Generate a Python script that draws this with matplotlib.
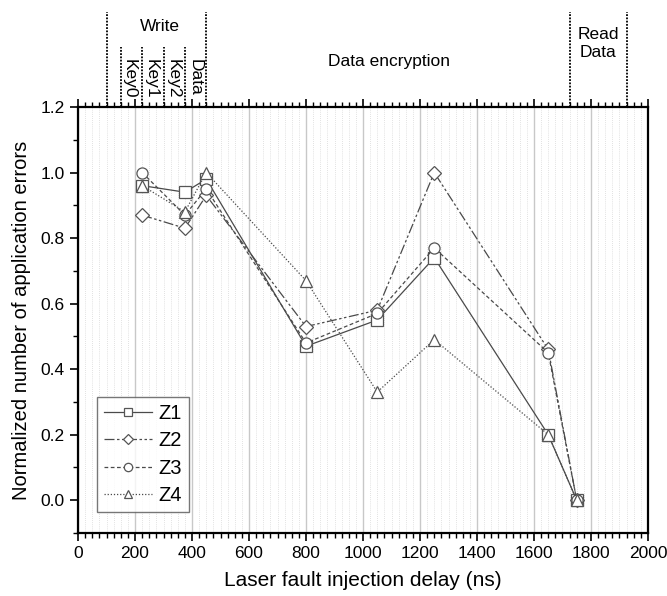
import matplotlib
matplotlib.use("Agg")
import matplotlib.pyplot as plt
from matplotlib.ticker import MultipleLocator, FormatStrFormatter
import matplotlib.transforms as mtransforms

plt.rcParams['font.family'] = ['Liberation Sans', 'DejaVu Sans']

delay = [225, 375, 450, 800, 1050, 1250, 1650, 1750]
z1 = [0.96, 0.94, 0.98, 0.47, 0.55, 0.74, 0.20, 0.0]
z2 = [0.87, 0.83, 0.93, 0.53, 0.58, 1.00, 0.46, 0.0]
z3 = [1.00, 0.87, 0.95, 0.48, 0.57, 0.77, 0.45, 0.0]
z4 = [0.96, 0.88, 1.00, 0.67, 0.33, 0.49, 0.20, 0.0]
series_names = ['Z1', 'Z2', 'Z3', 'Z4']

phase_tall = [100, 450, 1725, 1925]
phase_short = [150, 225, 300, 375]
key_labels = ['Key0', 'Key1', 'Key2', 'Data']
key_pos = [180, 256, 334, 410]

fig = plt.figure(figsize=(6.67, 5.96), dpi=100)
ax = fig.add_axes([0.117, 0.1057, 0.8545, 0.7148])

col = '#4a4a4a'
styles = [('s', '-'), ('D', (0, (8, 2, 2, 2, 2, 2))), ('o', (0, (3, 2))), ('^', (0, (1, 1.5)))]
for ys, name, (m, ls) in zip([z1, z2, z3, z4], series_names, styles):
    ms = 8 if m != 'D' else 7
    ax.plot(delay, ys, linestyle=ls, color=col, lw=0.9, marker=m, ms=ms,
            mfc='white', mec='#555555', mew=0.9, label=name)

ax.set_xlim(0, 2000)
ax.set_ylim(-0.1, 1.2)
ax.xaxis.set_major_locator(MultipleLocator(200))
ax.xaxis.set_minor_locator(MultipleLocator(25))
ax.yaxis.set_major_locator(MultipleLocator(0.2))
ax.yaxis.set_minor_locator(MultipleLocator(0.1))
ax.yaxis.set_major_formatter(FormatStrFormatter('%.1f'))

ax.grid(axis='x', which='major', color='#c8c8c8', lw=1.0, ls='-')
ax.grid(axis='x', which='minor', color='#d8d8d8', lw=0.6, ls=(0, (1, 1.5)))
ax.set_axisbelow(True)

for s in ax.spines.values():
    s.set_linewidth(1.6)
    s.set_color('black')

ax.tick_params(axis='both', which='major', direction='out', length=6, width=1.2, labelsize=12.5)
ax.tick_params(axis='both', which='minor', direction='out', length=3.5, width=1.0)
ax.tick_params(axis='x', which='both', top=True, labeltop=False)
ax.tick_params(axis='y', which='both', right=False)

ax.set_xlabel('Laser fault injection delay (ns)', fontsize=15, labelpad=7)
ax.set_ylabel('Normalized number of application errors', fontsize=14.5, labelpad=7)

trans = mtransforms.blended_transform_factory(ax.transData, ax.transAxes)
for x in phase_tall:
    ax.plot([x, x], [1.0, 1.222], transform=trans, clip_on=False, color='black',
            lw=1.3, ls=(0, (1, 0.8)))
for x in phase_short:
    ax.plot([x, x], [1.0, 1.141], transform=trans, clip_on=False, color='black',
            lw=1.3, ls=(0, (1, 0.8)))

ax.text(288, 1.19, 'Write', transform=trans, ha='center', va='center', fontsize=12.5)
for x, lab in zip(key_pos, key_labels):
    ax.text(x, 1.112, lab, transform=trans, ha='center', va='top', rotation=270, fontsize=12.5)
ax.text(1090, 1.106, 'Data encryption', transform=trans, ha='center', va='center', fontsize=12.5)
ax.text(1825, 1.148, 'Read\nData', transform=trans, ha='center', va='center', fontsize=12.5,
        linespacing=1.25)

leg = ax.legend(loc='lower left', bbox_to_anchor=(0.033, 0.049), borderaxespad=0,
                fontsize=14.5, frameon=True,
                fancybox=False, edgecolor='#555555', handlelength=2.4, handletextpad=0.3,
                labelspacing=0.42, borderpad=0.35, numpoints=1, markerscale=0.75)
leg.get_frame().set_linewidth(1.0)

fig.savefig('out.png', dpi=100)
